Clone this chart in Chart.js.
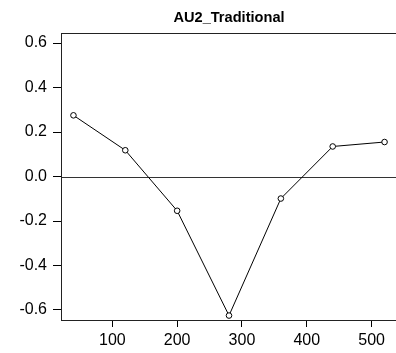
<!DOCTYPE html>
<html>
<head>
<meta charset="utf-8">
<script src="https://cdn.jsdelivr.net/npm/chart.js@4"></script>
<style>
  html, body { margin: 0; padding: 0; background: #fff; overflow: hidden; }
  canvas { display: block; }
</style>
</head>
<body>
<canvas id="auChart" width="402" height="353"></canvas>
<script>
// AU2 series, sampled every 80 units
const X_VALUES = [40, 120, 200, 280, 360, 440, 520];
const AU2_VALUES = [0.275, 0.118, -0.154, -0.625, -0.099, 0.135, 0.155];

const X_TICKS = [100, 200, 300, 400, 500];
const Y_TICKS = [-0.6, -0.4, -0.2, 0.0, 0.2, 0.4, 0.6];

const FONT = 'Liberation Sans, Arial, Helvetica, sans-serif';

// frame around the plot region plus the reference line at zero
const frameAndZero = {
    id: 'frameAndZero',
    beforeDatasetsDraw(chart) {
        const { ctx, chartArea, scales } = chart;
        const y0 = Math.round(scales.y.getPixelForValue(0)) + 0.5;
        ctx.save();
        ctx.lineWidth = 1;
        ctx.strokeStyle = '#333';
        ctx.beginPath();
        ctx.moveTo(chartArea.left, y0);
        ctx.lineTo(chartArea.right, y0);
        ctx.stroke();
        ctx.strokeStyle = '#222';
        ctx.strokeRect(
            Math.round(chartArea.left) + 0.5,
            Math.round(chartArea.top) + 0.5,
            Math.round(chartArea.right - chartArea.left),
            Math.round(chartArea.bottom - chartArea.top)
        );
        ctx.restore();
    }
};

const dataAU2 = {
    datasets: [
        {
            label: 'AU2_Traditional',
            data: X_VALUES.map((x, i) => ({ x: x, y: AU2_VALUES[i] })),
            borderColor: '#000',
            borderWidth: 1,
            pointRadius: 2.8,
            pointBorderWidth: 1,
            pointBorderColor: '#000',
            pointBackgroundColor: '#fff',
            tension: 0,
        }
    ]
};

const configAU2 = {
    type: 'line',
    data: dataAU2,
    plugins: [frameAndZero],
    options: {
        responsive: false,
        animation: false,
        layout: { padding: { left: 0, right: 0.6, top: 0, bottom: 0 } },
        plugins: {
            legend: { display: false },
            tooltip: { enabled: false },
            title: {
                display: true,
                fullSize: false,
                text: 'AU2_Traditional',
                color: '#000',
                font: { family: FONT, size: 14.6, weight: 'bold' },
                padding: { top: 9, bottom: 6.5 }
            }
        },
        scales: {
            x: {
                type: 'linear',
                min: 20.8,
                max: 539.2,
                border: { display: false },
                grid: { drawOnChartArea: false, drawTicks: true, tickLength: 7, color: '#000' },
                ticks: { color: '#000', font: { family: FONT, size: 16 }, padding: 4, maxRotation: 0 },
                afterBuildTicks: scale => { scale.ticks = X_TICKS.map(v => ({ value: v })); },
                afterFit: scale => { scale.height = 33; }
            },
            y: {
                type: 'linear',
                min: -0.645,
                max: 0.645,
                border: { display: false },
                grid: { drawOnChartArea: false, drawTicks: true, tickLength: 8, color: '#000' },
                ticks: {
                    color: '#000',
                    font: { family: FONT, size: 16 },
                    padding: 6,
                    callback: v => v.toFixed(1)
                },
                afterBuildTicks: scale => { scale.ticks = Y_TICKS.map(v => ({ value: v })); },
                afterFit: scale => { scale.width = 61; }
            }
        }
    }
};

var au2Chart = new Chart(document.getElementById('auChart'), configAU2);
</script>
</body>
</html>
